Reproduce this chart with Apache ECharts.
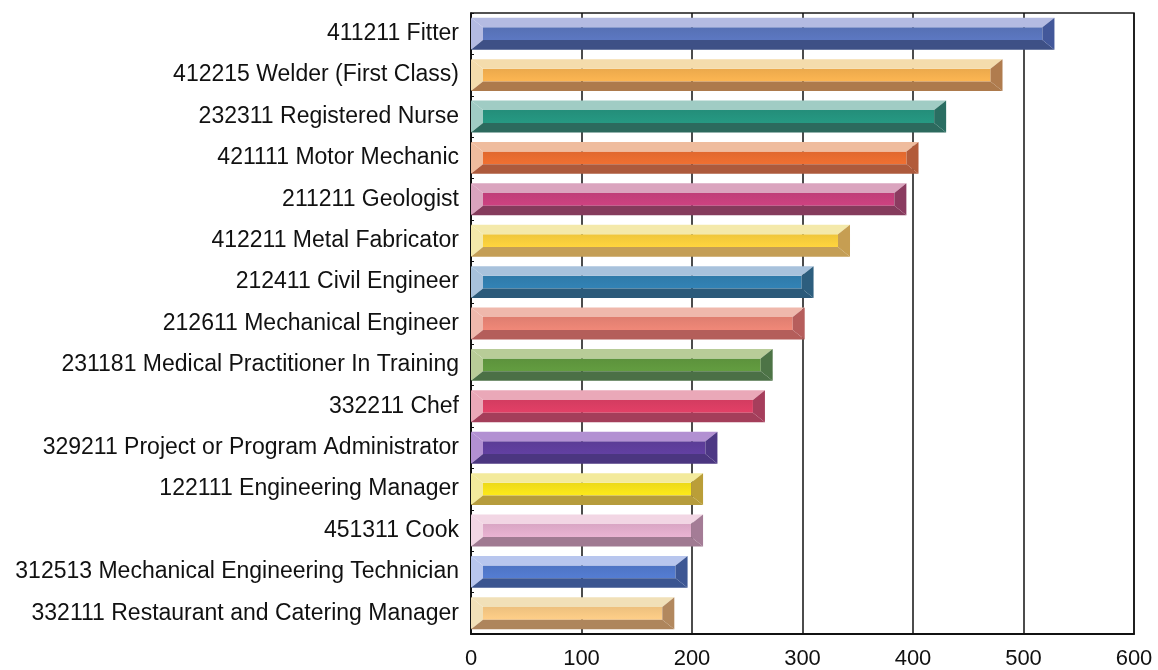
<!DOCTYPE html>
<html>
<head>
<meta charset="utf-8">
<script src="https://cdn.jsdelivr.net/npm/echarts@6/dist/echarts.min.js"></script>
<style>
html,body{margin:0;padding:0;background:#fff;}
#chart{width:1158px;height:670px;}
</style>
</head>
<body>
<div id="chart"></div>
<script>
const categories = [
  '411211 Fitter',
  '412215 Welder (First Class)',
  '232311 Registered Nurse',
  '421111 Motor Mechanic',
  '211211 Geologist',
  '412211 Metal Fabricator',
  '212411 Civil Engineer',
  '212611 Mechanical Engineer',
  '231181 Medical Practitioner In Training',
  '332211 Chef',
  '329211 Project or Program Administrator',
  '122111 Engineering Manager',
  '451311 Cook',
  '312513 Mechanical Engineering Technician',
  '332111 Restaurant and Catering Manager'
];
const values = [528, 481, 430, 405, 394, 343, 310, 302, 273, 266, 223, 210, 210, 196, 184];
const xTicks = [0, 100, 200, 300, 400, 500, 600];

// palette: [light, main, dark, rightFace]
const palette = [
  ['#b4bbe2', '#5670b4', '#3e5086', '#43589a'],
  ['#f4dcac', '#eba94c', '#ad7a4c', '#b07c4e'],
  ['#a0ccc4', '#248e7a', '#2c6a5e', '#2a6e62'],
  ['#efbc9e', '#e0682e', '#ad5a3c', '#b25b3a'],
  ['#daa4be', '#bf3e78', '#853b5c', '#8b3b60'],
  ['#f4e9aa', '#efc63a', '#c49e56', '#c69e52'],
  ['#a8c2dc', '#2f7aa9', '#2b5a7a', '#2d5e7e'],
  ['#efb8ac', '#df7e70', '#b45e5a', '#b65e5c'],
  ['#b8cc98', '#5c923c', '#4b7046', '#4d7446'],
  ['#eaa8b8', '#d33c60', '#a43e5a', '#a63e5c'],
  ['#b290d2', '#5b3c96', '#4b3680', '#4d3884'],
  ['#f3ea9c', '#ecd918', '#b69c3c', '#ba9e38'],
  ['#f2d6e4', '#d9a6c4', '#a07a92', '#a47c96'],
  ['#b8c6ee', '#4e74c4', '#3b5590', '#3d5794'],
  ['#f1e0b8', '#edc07e', '#ae855c', '#b2885e']
];

const data = values.map((v, i) => [v, i]);

const chart = echarts.init(document.getElementById('chart'), null, {renderer: 'canvas'});

function renderBar(params, api) {
  const idx = api.value(1);
  const val = api.value(0);
  const start = api.coord([0, idx]);
  const end = api.coord([val, idx]);
  const band = api.size([0, 1])[1];
  const h = band * 0.77;
  const x0 = start[0], x1 = end[0];
  const y0 = start[1] - h / 2, y1 = start[1] + h / 2;
  const dx = 12, dy = h * 0.3;
  const c = palette[idx % palette.length];
  return {
    type: 'group',
    children: [
      {type: 'rect', shape: {x: x0 + dx, y: y0 + dy, width: x1 - x0 - 2 * dx, height: h - 2 * dy},
        style: {fill: new echarts.graphic.LinearGradient(0, 0, 0, 1, [{offset: 0, color: c[1]}, {offset: 1, color: echarts.color.lift(c[1], -0.08)}])}},
      {type: 'polygon', shape: {points: [[x0, y0], [x1, y0], [x1 - dx, y0 + dy], [x0 + dx, y0 + dy]]}, style: {fill: c[0]}},
      {type: 'polygon', shape: {points: [[x0, y0], [x0 + dx, y0 + dy], [x0 + dx, y1 - dy], [x0, y1]]}, style: {fill: c[0]}},
      {type: 'polygon', shape: {points: [[x0, y1], [x0 + dx, y1 - dy], [x1 - dx, y1 - dy], [x1, y1]]}, style: {fill: c[2]}},
      {type: 'polygon', shape: {points: [[x1, y0], [x1, y1], [x1 - dx, y1 - dy], [x1 - dx, y0 + dy]]}, style: {fill: c[3]}}
    ]
  };
}

chart.setOption({
  animation: false,
  backgroundColor: '#fff',
  grid: {left: 471, right: 24, top: 13, bottom: 34, show: true, borderColor: '#1a1a1a', borderWidth: 1.5, containLabel: false},
  xAxis: {
    type: 'value', min: 0, max: 600, interval: 100,
    axisLine: {show: true, onZero: false, lineStyle: {color: '#111', width: 2}},
    axisTick: {show: false},
    splitLine: {show: true, lineStyle: {color: '#111', width: 1.5}},
    axisLabel: {color: '#111', fontSize: 22, fontFamily: 'Liberation Sans, Arial, sans-serif', margin: 14,
      formatter: v => xTicks.includes(v) ? String(v) : ''}
  },
  yAxis: {
    type: 'category', data: categories, inverse: true,
    axisLine: {show: true, lineStyle: {color: '#111', width: 1.5}},
    axisTick: {show: true, length: 3, inside: true, lineStyle: {color: '#111'}},
    axisLabel: {color: '#111', fontSize: 23, fontFamily: 'Liberation Sans, Arial, sans-serif', margin: 12}
  },
  series: [{
    type: 'custom',
    renderItem: renderBar,
    encode: {x: 0, y: 1},
    data: data
  }]
});
</script>
</body>
</html>
